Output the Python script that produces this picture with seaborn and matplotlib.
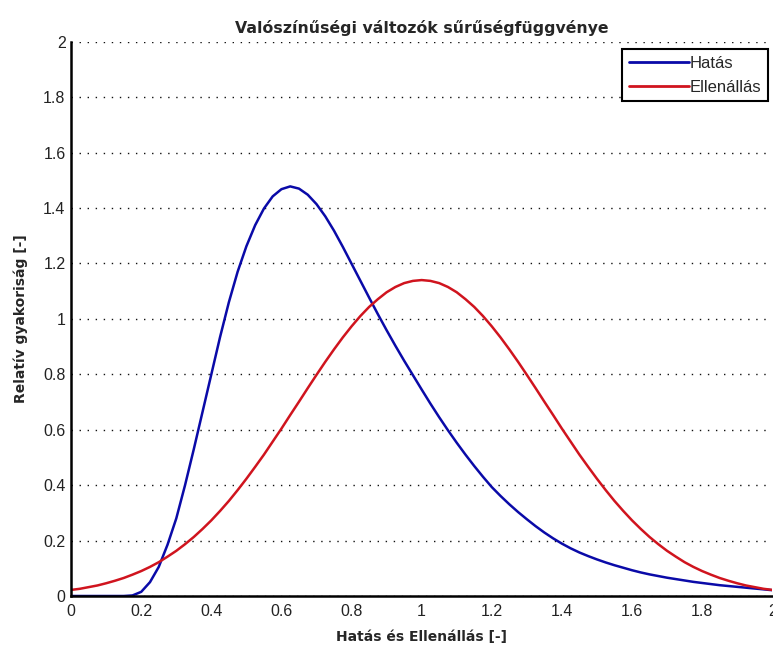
import numpy as np
import pandas as pd
import matplotlib
matplotlib.use("Agg")
import matplotlib.pyplot as plt
import seaborn as sns

# Grid of x values shared by both densities (step 0.025 from 0 to 2)
x_vals = [round(0.025 * i, 3) for i in range(81)]

# Hatás (load) density
hatas = [
    0.000, 0.000, 0.000, 0.000, 0.000, 0.000, 0.000, 0.002, 0.015, 0.050,
    0.105, 0.185, 0.280, 0.400, 0.530, 0.665, 0.800, 0.935, 1.060, 1.170,
    1.262, 1.338, 1.398, 1.442, 1.468, 1.478, 1.470, 1.448, 1.414, 1.370,
    1.318, 1.260, 1.199, 1.138, 1.077, 1.017, 0.959, 0.903, 0.849, 0.797,
    0.745, 0.694, 0.645, 0.598, 0.553, 0.510, 0.469, 0.430, 0.393, 0.361,
    0.331, 0.303, 0.277, 0.252, 0.229, 0.208, 0.189, 0.172, 0.157, 0.144,
    0.132, 0.121, 0.111, 0.102, 0.093, 0.085, 0.078, 0.072, 0.066, 0.061,
    0.056, 0.051, 0.047, 0.043, 0.039, 0.036, 0.033, 0.030, 0.027, 0.024,
    0.021,
]

# Ellenállás (resistance) density
ellenallas = [
    0.022, 0.026, 0.032, 0.038, 0.046, 0.055, 0.065, 0.077, 0.090, 0.105,
    0.122, 0.142, 0.163, 0.187, 0.213, 0.242, 0.273, 0.307, 0.343, 0.382,
    0.423, 0.466, 0.510, 0.557, 0.604, 0.653, 0.701, 0.750, 0.798, 0.845,
    0.890, 0.933, 0.973, 1.010, 1.043, 1.071, 1.096, 1.115, 1.129, 1.137,
    1.140, 1.137, 1.129, 1.115, 1.096, 1.071, 1.043, 1.010, 0.973, 0.933,
    0.890, 0.845, 0.798, 0.750, 0.701, 0.653, 0.604, 0.557, 0.510, 0.466,
    0.423, 0.382, 0.343, 0.307, 0.273, 0.242, 0.213, 0.187, 0.163, 0.142,
    0.122, 0.105, 0.090, 0.077, 0.065, 0.055, 0.046, 0.038, 0.032, 0.026,
    0.022,
]

series_names = ["Hatás", "Ellenállás"]
series_colors = {"Hatás": "#0a0aa8", "Ellenállás": "#d0141e"}

tick_values = [0, 0.2, 0.4, 0.6, 0.8, 1, 1.2, 1.4, 1.6, 1.8, 2]
tick_labels = ["0", "0.2", "0.4", "0.6", "0.8", "1", "1.2", "1.4", "1.6", "1.8", "2"]

title_text = "Valószínűségi változók sűrűségfüggvénye"
xlabel_text = "Hatás és Ellenállás [-]"
ylabel_text = "Relatív gyakoriság [-]"

df = pd.concat([
    pd.DataFrame({"x": x_vals, "y": hatas, "series": series_names[0]}),
    pd.DataFrame({"x": x_vals, "y": ellenallas, "series": series_names[1]}),
], ignore_index=True)

sns.set_theme(style="white")
plt.rcParams["font.family"] = ["Liberation Sans", "DejaVu Sans"]

fig = plt.figure(figsize=(7.73, 6.46), dpi=100)
ax = fig.add_axes([0.092, 0.0774, 0.907, 0.858])

sns.lineplot(data=df, x="x", y="y", hue="series", hue_order=series_names,
             palette=series_colors, linewidth=1.8, ax=ax, legend=False,
             estimator=None, sort=False)

ax.set_xlim(0, 2)
ax.set_ylim(0, 2)
ax.set_xticks(tick_values)
ax.set_xticklabels(tick_labels)
ax.set_yticks(tick_values)
ax.set_yticklabels(tick_labels)

# dotted horizontal grid
ax.yaxis.grid(True, color="#111111", linestyle=(0, (1, 4.8)), linewidth=1.0)
ax.xaxis.grid(False)

for side in ["top", "right"]:
    ax.spines[side].set_visible(False)
for side in ["left", "bottom"]:
    ax.spines[side].set_color("black")
    ax.spines[side].set_linewidth(1.8)

ax.tick_params(axis="both", direction="in", length=5, width=1.6,
               colors="black", labelcolor="#222222", labelsize=11.5, pad=4)
ax.tick_params(axis="x", pad=6)

ax.set_title(title_text, fontsize=11.3, fontweight="bold",
             fontfamily="DejaVu Sans", pad=6)
ax.set_xlabel(xlabel_text, fontsize=10, fontweight="bold",
              fontfamily="DejaVu Sans", labelpad=8)
ax.set_ylabel(ylabel_text, fontsize=10, fontweight="bold",
              fontfamily="DejaVu Sans", labelpad=11)

handles = [plt.Line2D([], [], color=series_colors[n], linewidth=2.0)
           for n in series_names]
leg = ax.legend(handles, series_names, loc="upper right",
                bbox_to_anchor=(0.994, 0.987), borderaxespad=0,
                fancybox=False, framealpha=1, edgecolor="black",
                fontsize=12, handlelength=3.6, handletextpad=0.05,
                borderpad=0.4, labelspacing=0.55)
leg.get_frame().set_linewidth(1.5)

fig.savefig("out.png", dpi=100)
